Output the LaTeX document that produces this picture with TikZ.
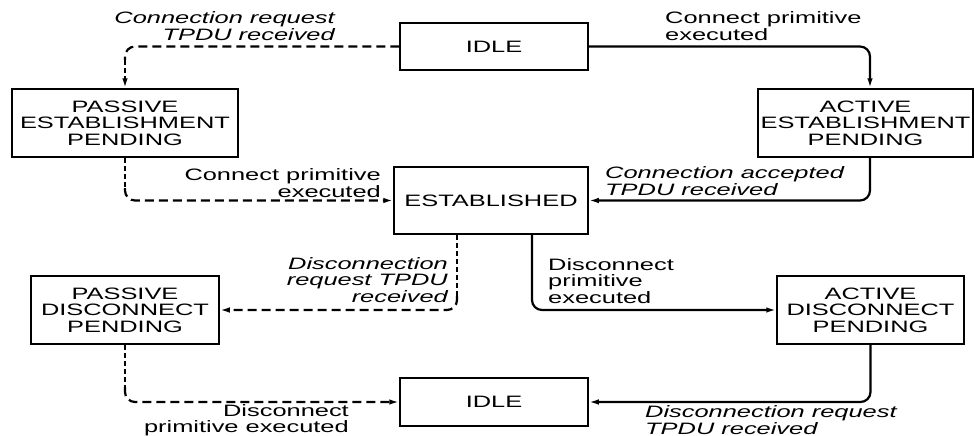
\documentclass[tikz,border=0pt]{standalone}
\usepackage{fontspec}
\setmainfont[FakeStretch=1.54]{Liberation Sans}
\usetikzlibrary{arrows.meta}
\newcommand\lf{\fontsize{16.5}{16.5}\selectfont}
\tikzset{
  state/.style={draw, line width=1.5pt, align=center, font=\lf, inner sep=0pt},
  lbl/.style={font=\lf, inner sep=0pt},
  ilbl/.style={font=\lf\itshape, inner sep=0pt},
  tip/.style={-{Latex[length=10pt,width=5.5pt]}},
  sol/.style={line width=2.2pt, rounded corners=10pt, tip},
  hdash/.style={line width=2.2pt, rounded corners=10pt, dash pattern=on 9pt off 5pt},
  vdash/.style={line width=2.4pt, dash pattern=on 5pt off 3pt},
}
\begin{document}
\begin{tikzpicture}[x=1pt,y=-1pt]
\useasboundingbox (0,0) rectangle (974,436);
% states
\node[state, minimum width=188pt, minimum height=47pt] (idle1) at (494,46.5) {IDLE};
\node[state, minimum width=226pt, minimum height=68pt] (pest) at (125,123) {PASSIVE\\ESTABLISHMENT\\PENDING};
\node[state, minimum width=215pt, minimum height=68pt] (aest) at (865.5,123) {ACTIVE\\ESTABLISHMENT\\PENDING};
\node[state, minimum width=194pt, minimum height=67pt] (est) at (491,200.5) {ESTABLISHED};
\node[state, minimum width=188pt, minimum height=68pt] (pdis) at (125,310) {PASSIVE\\DISCONNECT\\PENDING};
\node[state, minimum width=187pt, minimum height=68pt] (adis) at (870.5,310) {ACTIVE\\DISCONNECT\\PENDING};
\node[state, minimum width=188pt, minimum height=48pt] (idle2) at (494,402) {IDLE};
% corner helpers for dashed transitions
\coordinate (c1) at (125,60);
\coordinate (c3) at (125,188);
\coordinate (c5) at (457,296);
\coordinate (c7) at (125,387);
% transitions
\draw[hdash] (idle1.west) -| (c1);
\draw[vdash, tip] (c1) -- (pest.north);
\draw[sol] (idle1.east) -| ([xshift=4.5pt]aest.north);
\draw[vdash] (pest.south) -- (c3);
\draw[hdash, tip] (c3) |- (est.west);
\draw[sol] ([xshift=4.5pt]aest.south) |- (est.east);
\draw[vdash] ([xshift=-34pt]est.south) -- (c5);
\draw[hdash, tip] (c5) |- (pdis.east);
\draw[sol] ([xshift=41pt]est.south) |- (adis.west);
\draw[vdash] (pdis.south) -- (c7);
\draw[hdash, tip] (c7) |- (idle2.west);
\draw[sol] (adis.south) |- (idle2.east);
% labels
\node[ilbl, align=right, anchor=east] (l1) at (335,26) {Connection request\\TPDU received};
\node[lbl, align=left, anchor=west] (l2) at (665,26) {Connect primitive\\executed};
\node[lbl, align=right, anchor=east] (l3) at (381,183) {Connect primitive\\executed};
\node[ilbl, align=left, anchor=west] (l4) at (605,181) {Connection accepted\\TPDU received};
\node[ilbl, align=right, anchor=east] (l5) at (448,280) {Disconnection\\request TPDU\\received};
\node[lbl, align=left, anchor=west] (l6) at (548,281) {Disconnect\\primitive\\executed};
\node[lbl, align=right, anchor=east] (l7) at (349,420) {Disconnect\\primitive executed};
\node[ilbl, align=left, anchor=west] (l8) at (645,420) {Disconnection request\\TPDU received};
\end{tikzpicture}
\end{document}
